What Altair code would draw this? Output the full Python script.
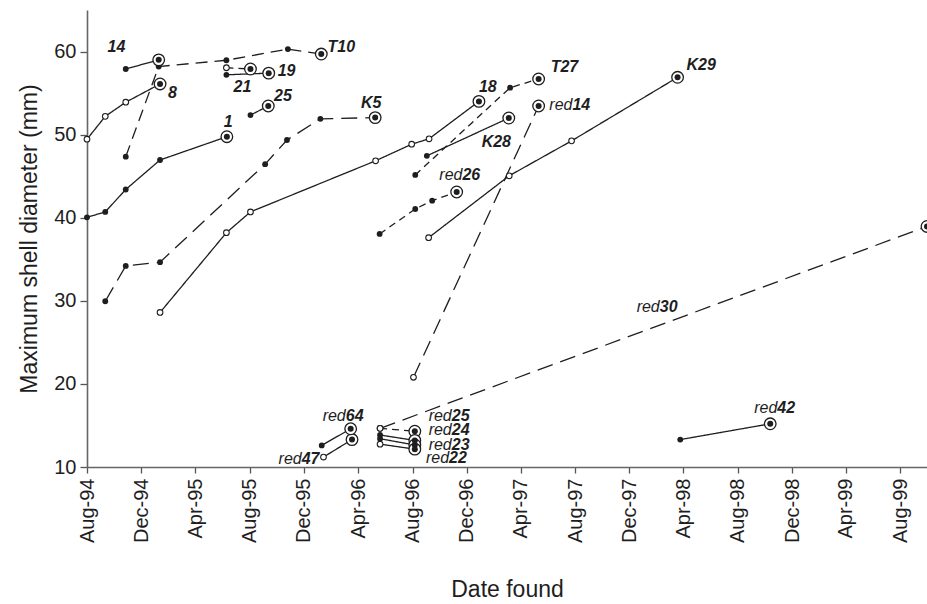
import altair as alt
import pandas as pd

FONT = "Liberation Sans"
INK = "#1e1e1e"

# ---- series data ----
series_ids = ["14", "8", "1", "T10", "21", "19", "25", "K5", "18", "K28", "T27",
              "red26", "K29", "red14", "red30", "red42", "red47", "red64",
              "red24", "red25", "red23", "red22"]
# marker style of the non-final points
series_marker = ["filled", "open", "filled", "filled", "open", "filled", "filled", "filled",
                 "open", "filled", "filled", "filled", "open", "open", "open", "filled",
                 "open", "filled", "open", "filled", "filled", "open"]
# line style
series_line = ["solid", "solid", "solid", "medium", "short", "solid", "solid", "long",
               "solid", "solid", "short", "short", "solid", "long", "long", "solid",
               "solid", "solid", "short", "solid", "solid", "solid"]
series_dates = [
    ["1994-10-27", "1995-01-09"],
    ["1994-08-01", "1994-09-11", "1994-10-27", "1995-01-12"],
    ["1994-08-01", "1994-09-11", "1994-10-27", "1995-01-12", "1995-06-11"],
    ["1994-10-27", "1995-01-09", "1995-06-10", "1995-10-26", "1996-01-09"],
    ["1995-06-10", "1995-08-03"],
    ["1995-06-10", "1995-09-13"],
    ["1995-08-03", "1995-09-12"],
    ["1994-09-11", "1994-10-27", "1995-01-12", "1995-09-05", "1995-10-24", "1996-01-07", "1996-05-09"],
    ["1995-01-12", "1995-06-10", "1995-08-03", "1996-05-10", "1996-07-30", "1996-09-07", "1996-12-28"],
    ["1996-09-02", "1997-03-05"],
    ["1996-08-07", "1997-03-08", "1997-05-11"],
    ["1996-05-19", "1996-08-07", "1996-09-14", "1996-11-08"],
    ["1996-09-06", "1997-03-06", "1997-07-24", "1998-03-19"],
    ["1996-08-03", "1997-05-11"],
    ["1996-05-20", "1999-09-30"],
    ["1998-03-25", "1998-10-13"],
    ["1996-01-14", "1996-03-18"],
    ["1996-01-10", "1996-03-15"],
    ["1996-05-20", "1996-08-06"],
    ["1996-05-20", "1996-08-06"],
    ["1996-05-20", "1996-08-06"],
    ["1996-05-20", "1996-08-06"],
]
series_mm = [
    [57.9, 59.0],
    [49.45, 52.2, 53.9, 56.1],
    [40.05, 40.7, 43.4, 46.95, 49.75],
    [47.35, 58.2, 58.95, 60.3, 59.7],
    [58.05, 57.9],
    [57.2, 57.4],
    [52.35, 53.45],
    [29.95, 34.2, 34.65, 46.45, 49.35, 51.9, 52.05],
    [28.6, 38.2, 40.7, 46.85, 48.85, 49.5, 54.0],
    [47.45, 52.0],
    [45.15, 55.65, 56.7],
    [38.05, 41.05, 42.05, 43.1],
    [37.6, 45.05, 49.25, 56.9],
    [20.8, 53.45],
    [14.65, 38.95],
    [13.3, 15.2],
    [11.2, 13.3],
    [12.6, 14.6],
    [14.65, 14.3],
    [13.85, 13.2],
    [13.4, 12.65],
    [12.75, 12.15],
]

# ---- labels ----
bold_labels = ["14", "8", "1", "21", "19", "25", "T10", "K5", "18", "T27", "K28", "K29"]
bold_label_dates = ["1994-10-06", "1995-02-09", "1995-06-14", "1995-07-16", "1995-10-23",
                    "1995-10-15", "1996-02-23", "1996-04-30", "1997-01-17", "1997-07-08",
                    "1997-02-05", "1998-05-11"]
bold_label_mm = [60.57, 55.0, 51.57, 55.75, 57.7, 54.66, 60.6, 53.78, 55.78, 58.19, 49.16, 58.4]

red_numbers = ["14", "26", "30", "42", "64", "47", "25", "24", "23", "22"]
red_label_dates = ["1997-07-26", "1996-11-21", "1998-02-07", "1998-10-29", "1996-03-04",
                   "1995-11-26", "1996-10-28", "1996-10-28", "1996-10-28", "1996-10-22"]
red_label_mm = [53.58, 45.14, 29.28, 17.16, 16.14, 11.01, 16.14, 14.51, 12.70, 11.08]

tick_months = [(1994, 8), (1994, 12), (1995, 4), (1995, 8), (1995, 12), (1996, 4),
               (1996, 8), (1996, 12), (1997, 4), (1997, 8), (1997, 12), (1998, 4),
               (1998, 8), (1998, 12), (1999, 4), (1999, 8)]
y_ticks = [10, 20, 30, 40, 50, 60]

# ---- build tables ----
rows = []
for sid, mk, ls, ds, vs in zip(series_ids, series_marker, series_line, series_dates, series_mm):
    n = len(ds)
    for i, (d, v) in enumerate(zip(ds, vs)):
        rows.append({"series": sid, "date": d, "mm": v,
                     "kind": "end" if i == n - 1 else mk, "dash": ls, "ord": i})
df = pd.DataFrame(rows)

bold_df = pd.DataFrame({"text": bold_labels, "date": bold_label_dates, "mm": bold_label_mm})
red_df = pd.DataFrame({"num": red_numbers, "date": red_label_dates, "mm": red_label_mm})
red_df["red"] = "red"

x_scale = alt.Scale(type="utc",
                    domain=[alt.DateTime(year=1994, month=8, date=1, utc=True),
                            alt.DateTime(year=1999, month=9, date=30, utc=True)])
y_scale = alt.Scale(domain=[10, 65], nice=False, zero=False)

x_enc = alt.X("date:T", scale=x_scale,
              axis=alt.Axis(values=[alt.DateTime(year=y, month=m, date=1, utc=True) for y, m in tick_months],
                            labelExpr="utcFormat(datum.value, '%b-%y')", labelAngle=-90,
                            labelAlign="right", labelBaseline="middle",
                            title="Date found", titlePadding=36, labelPadding=5,
                            tickSize=6))
y_enc = alt.Y("mm:Q", scale=y_scale,
              axis=alt.Axis(values=y_ticks, title="Maximum shell diameter (mm)",
                            titlePadding=12, labelPadding=4, tickSize=7))

base = alt.Chart(df)

lines = base.mark_line(color=INK, strokeWidth=1.3).encode(
    x=x_enc, y=y_enc, detail="series:N", order="ord:Q",
    strokeDash=alt.StrokeDash("dash:N", legend=None,
                              scale=alt.Scale(domain=["solid", "short", "medium", "long"],
                                              range=[[1, 0], [7, 5], [12, 7], [16, 8]])))

open_pts = base.transform_filter(alt.datum.kind == "open").mark_point(
    shape="circle", filled=True, fill="white", stroke=INK, strokeWidth=1.1,
    size=32, opacity=1).encode(x="date:T", y="mm:Q")

filled_pts = base.transform_filter(alt.datum.kind == "filled").mark_circle(
    color=INK, size=34, opacity=1).encode(x="date:T", y="mm:Q")

ring = base.transform_filter(alt.datum.kind == "end").mark_point(
    shape="circle", filled=True, fill="white", stroke=INK, strokeWidth=1.3,
    size=135, opacity=1).encode(x="date:T", y="mm:Q")

ring_dot = base.transform_filter(alt.datum.kind == "end").mark_circle(
    color=INK, size=36, opacity=1).encode(x="date:T", y="mm:Q")

bold_text = alt.Chart(bold_df).mark_text(
    font=FONT, fontSize=16, fontStyle="italic", fontWeight="bold", color=INK,
    align="center", baseline="middle").encode(x="date:T", y="mm:Q", text="text:N")

red_word = alt.Chart(red_df).mark_text(
    font=FONT, fontSize=16, fontStyle="italic", fontWeight="normal", color=INK,
    align="right", baseline="middle").encode(x="date:T", y="mm:Q", text="red:N")

red_num = alt.Chart(red_df).mark_text(
    font=FONT, fontSize=16, fontStyle="italic", fontWeight="bold", color=INK,
    align="left", baseline="middle").encode(x="date:T", y="mm:Q", text="num:N")

chart = alt.layer(lines, open_pts, filled_pts, ring, ring_dot, bold_text, red_word, red_num).properties(
    width=840, height=457,
    autosize=alt.AutoSizeParams(type="none"),
    padding={"left": 87, "top": 10, "right": 0, "bottom": 137},
    background="white",
).configure_view(stroke=None, clip=False).configure_axis(
    grid=False, domainColor="#666666", domainWidth=1.6, tickColor="#555555", tickWidth=1.3,
    labelFont=FONT, titleFont=FONT, labelFontSize=20, titleFontSize=23,
    labelColor=INK, titleColor=INK, titleFontWeight="normal",
)

chart.save("out.html", embed_options={"renderer": "svg", "actions": False})
